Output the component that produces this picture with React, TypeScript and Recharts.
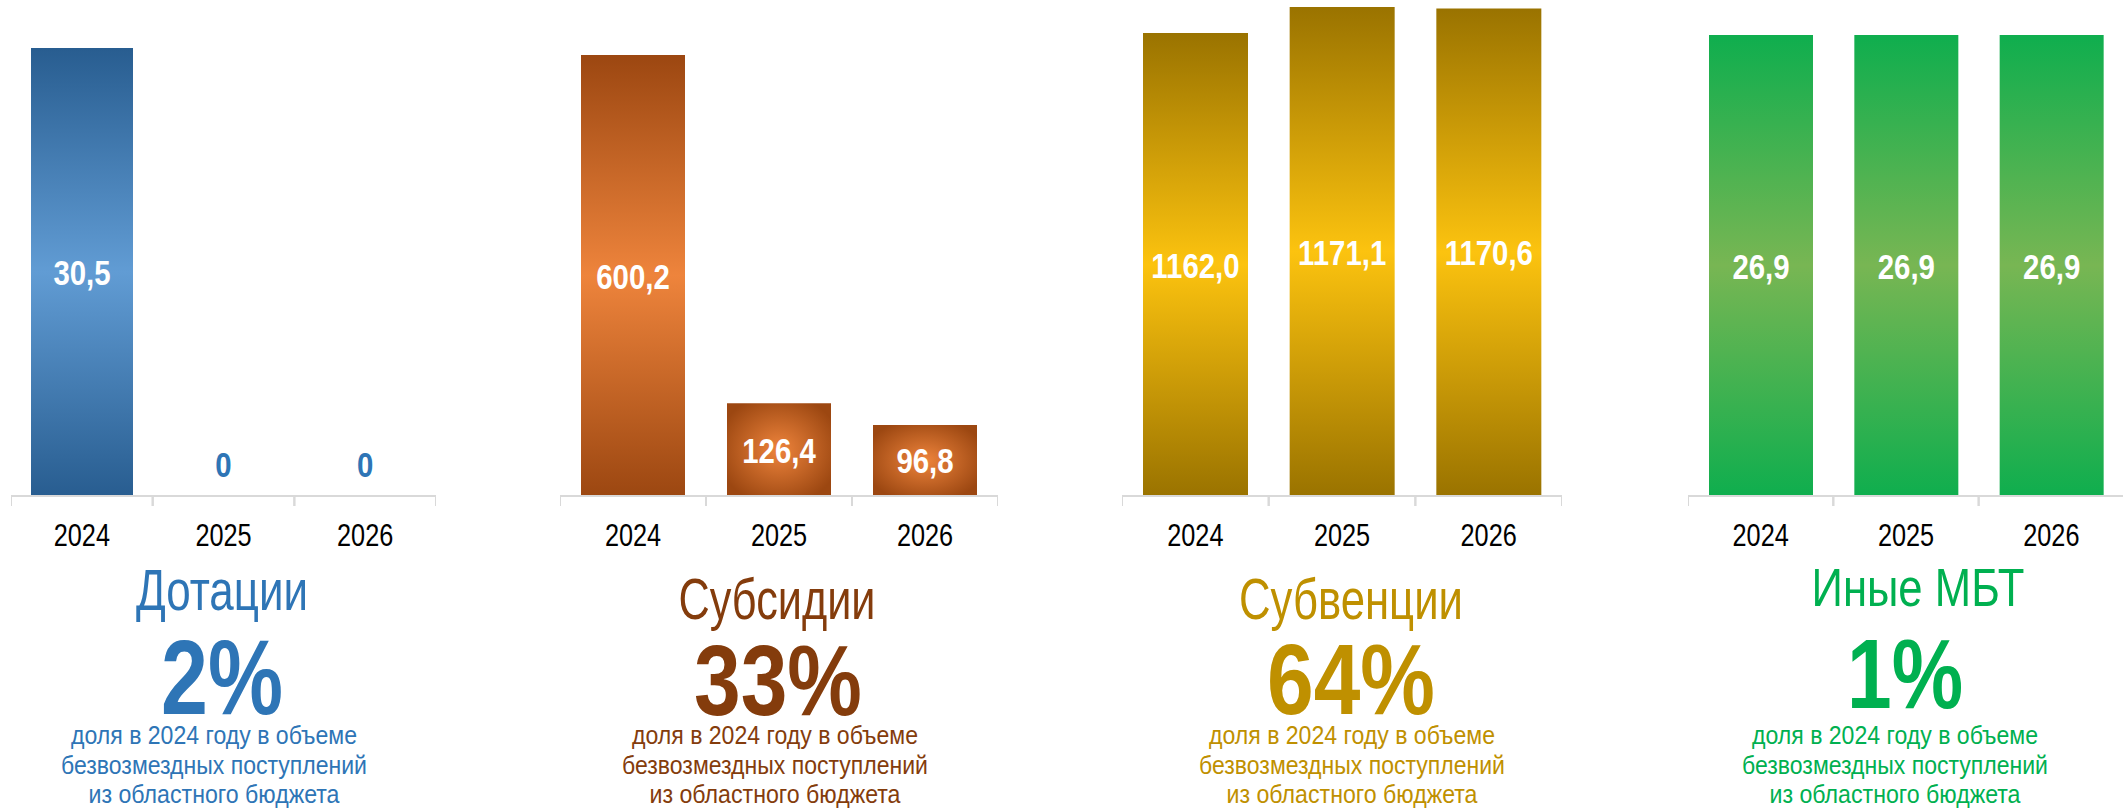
import { BarChart, Bar, XAxis, YAxis, Cell, LabelList } from 'recharts'

const years = ['2024', '2025', '2026']
const dotatsii = [30.5, 0, 0]
const subsidii = [600.2, 126.4, 96.8]
const subventsii = [1162.0, 1171.1, 1170.6]
const inyeMbt = [26.9, 26.9, 26.9]

const titles = ['Дотации', 'Субсидии', 'Субвенции', 'Иные МБТ']
const shares = ['2%', '33%', '64%', '1%']
const subtitle = ['доля в 2024 году в объеме', 'безвозмездных поступлений', 'из областного бюджета']

const FONT = "'Liberation Sans', Arial, sans-serif"
const AXIS_Y = 496
const CHART_H = 570
// line widths taken from the narrow font of the original
const SUB_WIDTHS = [286, 306, 251]

interface Panel {
  id: string
  values: number[]
  base: number
  left: number
  width: number
  top: number
  barSize: number
  color: string
  dark: string
  light: string
  radialFrom?: number
  title: { x: number; y: number; w: number; size: number }
  share: { x: number; y: number; w: number; size: number }
  sub: number
}

const panels: Panel[] = [
  {
    id: 'dot', values: dotatsii, base: 0, left: 11, width: 425, top: 48, barSize: 102,
    color: '#2E75B6', dark: '#285D90', light: '#619CD4',
    title: { x: 222, y: 610, w: 172, size: 58 }, share: { x: 222, y: 714, w: 122, size: 106 }, sub: 214,
  },
  {
    id: 'sub', values: subsidii, base: 0, left: 560, width: 438, top: 55, barSize: 104,
    color: '#843C0C', dark: '#9C4711', light: '#EE843C', radialFrom: 1,
    title: { x: 777, y: 619, w: 197, size: 57 }, share: { x: 778, y: 715, w: 168, size: 100 }, sub: 775,
  },
  {
    id: 'sbv', values: subventsii, base: 1000, left: 1122, width: 440, top: 7, barSize: 105,
    color: '#BF9000', dark: '#9A7300', light: '#FCC30F',
    title: { x: 1351, y: 619, w: 224, size: 57 }, share: { x: 1351, y: 714, w: 168, size: 100 }, sub: 1352,
  },
  {
    id: 'mbt', values: inyeMbt, base: 0, left: 1688, width: 436, top: 35, barSize: 104,
    color: '#00B050', dark: '#0FAE4E', light: '#78B653',
    title: { x: 1918, y: 606, w: 213, size: 53 }, share: { x: 1905, y: 708, w: 116, size: 98 }, sub: 1895,
  },
]

const fmt = (v: number) => (v === 0 ? '0' : v.toFixed(1).replace('.', ','))

// horizontally condensed text (the original uses Arial Narrow)
function Narrow({ x, y, size, bold, fill, scale = 0.8, children }: any) {
  return (
    <text
      transform={`translate(${x},${y}) scale(${scale},1)`}
      textAnchor="middle"
      fontFamily={FONT}
      fontSize={size}
      fontWeight={bold ? 'bold' : 'normal'}
      fill={fill}
    >
      {children}
    </text>
  )
}

function PanelChart({ p }: { p: Panel }) {
  const data = years.map((year, i) => ({ year, value: p.values[i] }))
  const band = p.width / years.length
  const max = Math.max(...p.values)

  const Tick = (props: any) => {
    const { x, y, payload, index } = props
    const v = p.values[index]
    return (
      <g>
        <line x1={x - band / 2} y1={y} x2={x - band / 2} y2={y + 10} stroke="#D9D9D9" strokeWidth={2} />
        <line x1={x + band / 2} y1={y} x2={x + band / 2} y2={y + 10} stroke="#D9D9D9" strokeWidth={2} />
        <Narrow x={x} y={y + 50} size={32} fill="#000" scale={0.79}>
          {payload.value}
        </Narrow>
        {v === 0 && (
          <Narrow x={x} y={y - 19} size={35} bold scale={0.84} fill={p.color}>
            {fmt(v)}
          </Narrow>
        )}
      </g>
    )
  }

  const Label = (props: any) => {
    const { x, y, width, height, value } = props
    const v = Number(value)
    if (v === 0) return null
    return (
      <Narrow
        x={Number(x) + Number(width) / 2}
        y={Number(y) + Number(height) / 2 + 13}
        size={35}
        bold
        scale={0.84}
        fill="#fff"
      >
        {fmt(v)}
      </Narrow>
    )
  }

  return (
    <div style={{ position: 'absolute', left: p.left, top: 0 }}>
      <BarChart
        width={p.width}
        height={CHART_H}
        data={data}
        margin={{ top: p.top, right: 0, left: 0, bottom: CHART_H - AXIS_Y - 60 }}
      >
        <defs>
          <linearGradient id={`lin-${p.id}`} x1="0" y1="0" x2="0" y2="1">
            <stop offset="0%" stopColor={p.dark} />
            <stop offset="50%" stopColor={p.light} />
            <stop offset="100%" stopColor={p.dark} />
          </linearGradient>
          <radialGradient id={`rad-${p.id}`} cx="50%" cy="50%" r="60%">
            <stop offset="0%" stopColor={p.light} />
            <stop offset="100%" stopColor={p.dark} />
          </radialGradient>
        </defs>
        <XAxis
          dataKey="year"
          height={60}
          axisLine={{ stroke: '#D9D9D9', strokeWidth: 2 }}
          tickLine={false}
          tickSize={0}
          tickMargin={0}
          interval={0}
          tick={<Tick />}
        />
        <YAxis hide type="number" domain={[p.base, max]} allowDataOverflow />
        <Bar dataKey="value" barSize={p.barSize} isAnimationActive={false}>
          {data.map((d, i) => (
            <Cell
              key={d.year}
              fill={p.radialFrom !== undefined && i >= p.radialFrom ? `url(#rad-${p.id})` : `url(#lin-${p.id})`}
            />
          ))}
          <LabelList dataKey="value" content={<Label />} />
        </Bar>
      </BarChart>
    </div>
  )
}

export default function App() {
  return (
    <div style={{ position: 'absolute', left: 0, top: 0, width: 2123, height: 809, background: '#fff', overflow: 'hidden' }}>
      {panels.map((p) => (
        <PanelChart key={p.id} p={p} />
      ))}
      <svg width={2123} height={809} style={{ position: 'absolute', left: 0, top: 0, pointerEvents: 'none' }}>
        {panels.map((p, i) => (
          <g key={p.id} fill={p.color} fontFamily={FONT} textAnchor="middle">
            <text
              x={p.title.x}
              y={p.title.y}
              fontSize={p.title.size}
              textLength={p.title.w}
              lengthAdjust="spacingAndGlyphs"
            >
              {titles[i]}
            </text>
            <text
              x={p.share.x}
              y={p.share.y}
              fontSize={p.share.size}
              fontWeight="bold"
              textLength={p.share.w}
              lengthAdjust="spacingAndGlyphs"
            >
              {shares[i]}
            </text>
            {subtitle.map((line, j) => (
              <text
                key={line}
                x={p.sub}
                y={744 + j * 29.5}
                fontSize={25}
                textLength={SUB_WIDTHS[j]}
                lengthAdjust="spacingAndGlyphs"
              >
                {line}
              </text>
            ))}
          </g>
        ))}
      </svg>
    </div>
  )
}
